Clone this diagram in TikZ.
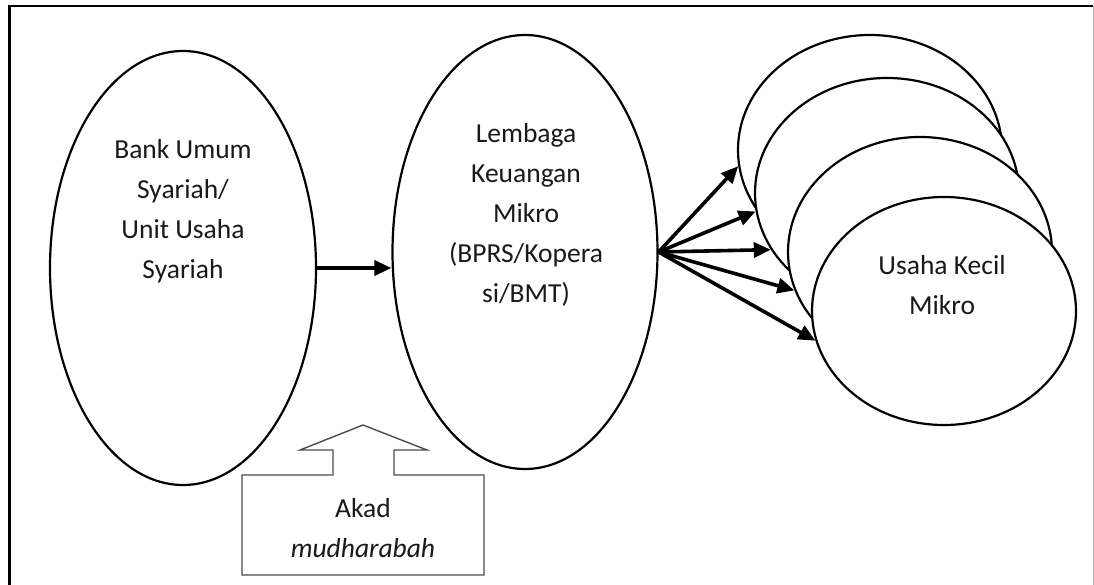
\documentclass[tikz,border=0pt]{standalone}
\usepackage{fontspec}
\setmainfont{Carlito}
\usetikzlibrary{shapes.geometric,arrows.meta,calc}
\begin{document}
\begin{tikzpicture}[x=1pt,y=-1pt,
  blob/.style={ellipse,draw=black,line width=2.2pt,fill=white,inner sep=0pt},
  lbl/.style={align=center,text=black!90,font=\fontsize{27.5}{40}\selectfont,inner sep=0pt},
  arr/.style={line width=3.6pt,-{Triangle[length=17pt,width=15pt]}},
]
\useasboundingbox (0,0) rectangle (1094,585);

% outer frame (open at the bottom)
\draw[line width=2.8pt] (9.5,585) -- (9.5,6) -- (1093,6);
\draw[gray!60,line width=1pt] (1093,6) -- (1093,585);

% bank and micro-finance institution
\node[blob,minimum width=266pt,minimum height=434pt] (bus) at (183,268) {};
\node[lbl] (bustext) at (183,211) {Bank Umum\\Syariah/\\Unit Usaha\\Syariah};

\node[blob,minimum width=265pt,minimum height=434pt] (lkm) at (525,252) {};
\node[lbl] (lkmtext) at (526,215) {Lembaga\\Keuangan\\Mikro\\(BPRS/Kopera\\si/BMT)};

% stacked micro enterprises, back to front
\node[blob,minimum width=264pt,minimum height=230pt] (ua) at (870,150) {};
\node[blob,minimum width=264pt,minimum height=230pt] (ub) at (887,193) {};
\node[blob,minimum width=264pt,minimum height=230pt] (uc) at (920,252) {};
\node[blob,minimum width=264pt,minimum height=228pt] (ud) at (944,311) {};
\node[lbl] (udtext) at (942,285) {Usaha Kecil\\Mikro};

% flows
\draw[arr] (bus.east) -- (bus.east -| lkm.west);
\draw[arr] (lkm.east) -- (ua.187.8);
\draw[arr] (lkm.east) -- (ub.188.7);
\draw[arr] (lkm.east) -- (ub.206.4);
\draw[arr] (lkm.east) -- (uc.197.4);
\draw[arr] (lkm.east) -- (ud.193.2);

% contract callout pointing up between the two institutions
\draw[black!70,line width=1.4pt,fill=white]
  (242,575) -- (242,475) -- (333,475) -- (333,450) -- (300,450) -- (363,425)
  -- (427,450) -- (394,450) -- (394,475) -- (484,475) -- (484,575) -- cycle;
\node[lbl] (akad) at (363,528) {Akad\\\textit{mudharabah}};
\end{tikzpicture}
\end{document}
